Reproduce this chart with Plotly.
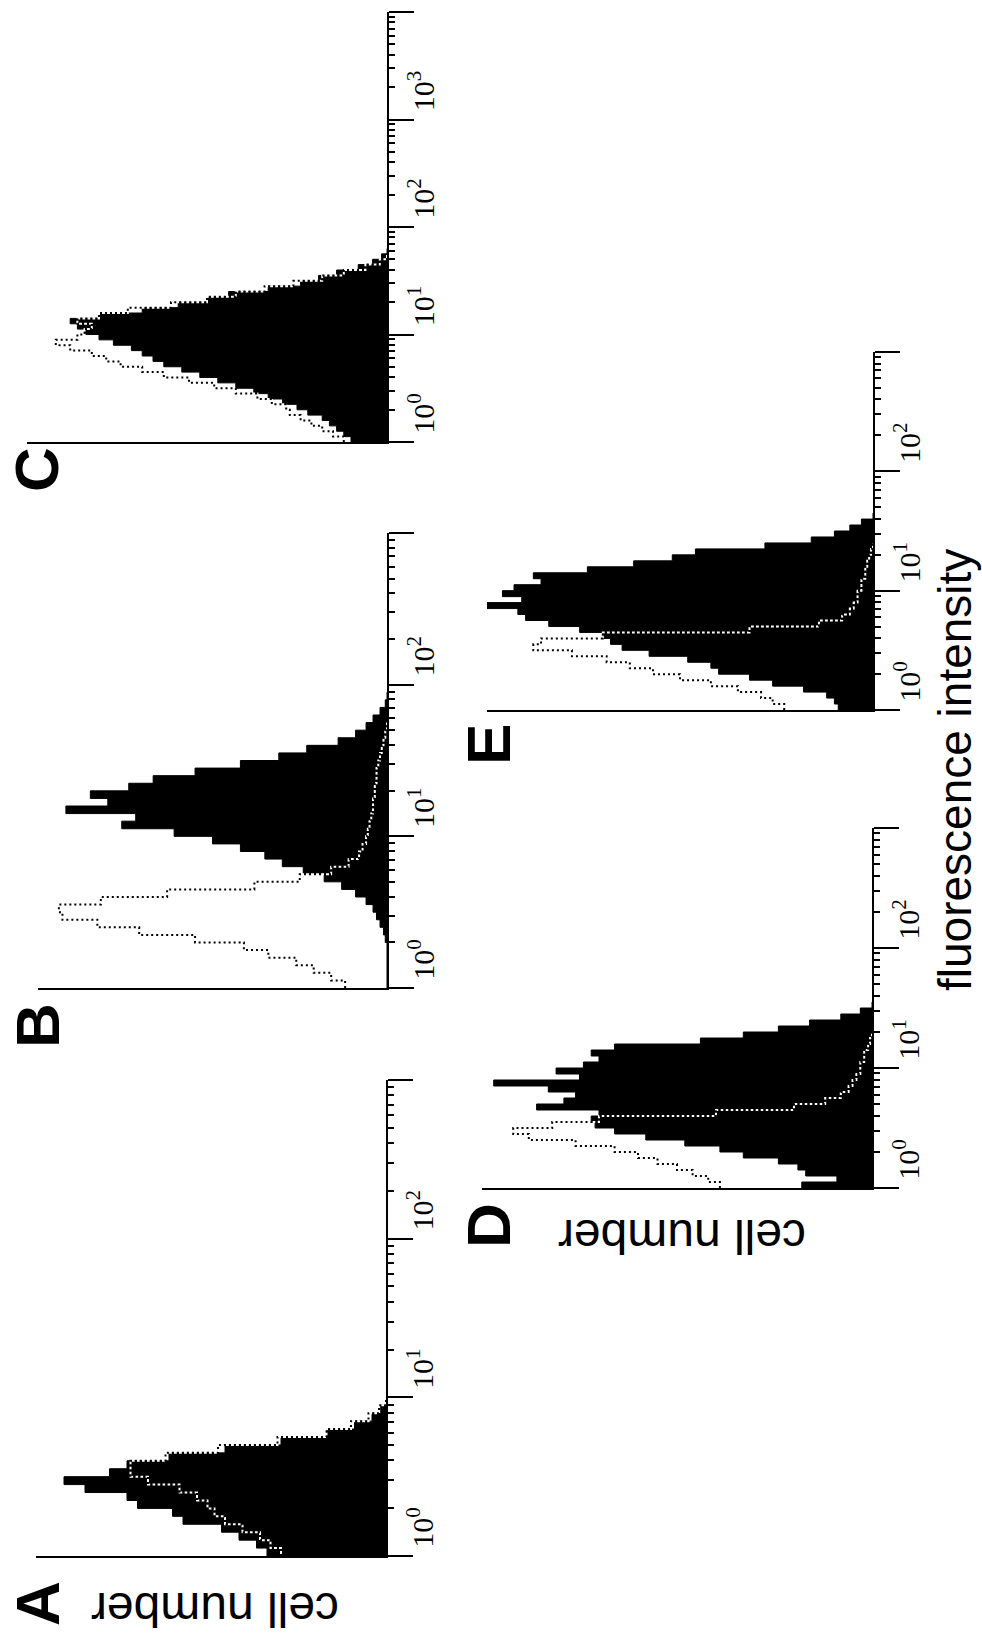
import plotly.graph_objects as go

W, H = 982, 1646

# histogram bins: log10(fluorescence) lower edge of first bin and bin width (decades)
BIN_START = 0.0
BIN_STEP = 0.05

# cell counts per bin (percent of the panel's count axis length)
A_fill = [34, 37, 42, 47, 58, 61, 71, 74, 86, 92, 79, 74, 62, 46, 30, 17, 9, 4, 1.5, 0]
A_ctrl = [30, 33, 36, 41, 46, 49, 51, 54, 59, 68, 73, 73, 63, 48, 31, 17, 10, 5, 2, 0]

B_fill = [0, 0, 0, 0, 0, 0, 0.5, 1, 2, 3, 4, 6, 9, 13, 18, 24, 30, 35, 42, 50,
          61, 76, 72, 92, 80, 85, 74, 67, 55, 42, 31, 23, 14, 9, 6, 4, 2, 0.5, 0]
B_ctrl = [12, 16, 21, 26, 34, 41, 55, 71, 83, 93, 94, 82, 63, 38, 25, 16, 11, 8, 7, 6,
          5.5, 5, 4.5, 4, 4, 3.5, 3.5, 3, 3, 2.5, 2, 1.5, 1, 0.5, 0]

C_fill = [10, 12, 14, 16, 18, 22, 25, 29, 33, 37, 42, 47, 52, 57, 62, 65, 68, 71, 76, 80,
          84, 86, 88, 80, 68, 58, 50, 44, 33, 24, 19, 14, 8, 4, 1.5, 0]
C_ctrl = [12, 15, 18, 21, 24, 27, 28, 32, 36, 42, 48, 55, 62, 68, 74, 78, 82, 88, 92, 86,
          84, 82, 86, 80, 72, 60, 50, 42, 34, 26, 18, 12, 6, 2, 0]

D_fill = [18, 9, 17, 19, 24, 33, 39, 48, 58, 66, 71, 72, 70, 86, 79, 76, 83, 97, 75, 81,
          74, 70, 72, 66, 44, 33, 24, 16, 8, 3, 0]
D_ctrl = [39, 42, 46, 50, 55, 60, 66, 76, 88, 92, 82, 70, 40, 20, 12, 8, 6, 5, 4, 3,
          3, 2, 2, 1, 0.5, 0]

E_fill = [9, 10, 12, 18, 26, 32, 40, 42, 48, 58, 65, 68, 70, 76, 84, 90, 92, 100, 91, 96,
          93, 86, 88, 74, 62, 52, 46, 28, 16, 10, 6, 3, 0]
E_ctrl = [23, 26, 29, 35, 42, 50, 57, 63, 69, 78, 88, 86, 70, 32, 14, 8, 6, 5, 4, 4,
          3, 3, 2, 2, 1.5, 1, 0.5, 0]

MAJOR_TICKS = [1, 10, 100, 1000, 10000]
MAJOR_TEXT = ["10<sup>0</sup>", "10<sup>1</sup>", "10<sup>2</sup>", "10<sup>3</sup>", " "]
MINOR_DIGITS = [2, 3, 4, 5, 6, 7, 8, 9]

PANEL_LETTERS = ["C", "B", "A", "E", "D"]
X_LABEL = "fluorescence intensity"
Y_LABEL = "cell number"

# layout (pixel boxes: left, right, top, bottom), log range of the fluorescence axis
panels = [
    dict(fill=C_fill, ctrl=C_ctrl, box=(27, 387, 12, 442), rng=(0.0, 4)),
    dict(fill=B_fill, ctrl=B_ctrl, box=(38, 387, 533, 988), rng=(0.0, 3)),
    dict(fill=A_fill, ctrl=A_ctrl, box=(36, 386, 1080, 1556), rng=(0.0, 3)),
    dict(fill=E_fill, ctrl=E_ctrl, box=(487, 873, 352, 710), rng=(0.0, 3)),
    dict(fill=D_fill, ctrl=D_ctrl, box=(482, 872, 828, 1188), rng=(0.0, 3)),
]


def step_path(counts, closed):
    xs, ys = [], []
    if closed:
        xs.append(0)
        ys.append(10 ** BIN_START)
    for i, c in enumerate(counts):
        lo = 10 ** (BIN_START + i * BIN_STEP)
        hi = 10 ** (BIN_START + (i + 1) * BIN_STEP)
        xs += [c, c]
        ys += [lo, hi]
    xs.append(0)
    ys.append(ys[-1])
    return xs, ys


fig = go.Figure()
layout = dict(width=W, height=H, margin=dict(l=0, r=0, t=0, b=0, autoexpand=False),
              paper_bgcolor="white", plot_bgcolor="white", showlegend=False)

for i, p in enumerate(panels, start=1):
    xa = "x" if i == 1 else f"x{i}"
    ya = "y" if i == 1 else f"y{i}"
    fx, fy = step_path(p["fill"], True)
    fig.add_trace(go.Scatter(x=fx, y=fy, mode="lines", fill="toself",
                             fillcolor="black", line=dict(color="black", width=1),
                             xaxis=xa, yaxis=ya, hoverinfo="skip"))
    cx, cy = step_path(p["ctrl"], False)
    fig.add_trace(go.Scatter(x=cx, y=cy, mode="lines",
                             line=dict(color="white", width=2, dash="0px,2px,3px,0px"),
                             xaxis=xa, yaxis=ya, hoverinfo="skip"))
    fig.add_trace(go.Scatter(x=cx, y=cy, mode="lines",
                             line=dict(color="black", width=2, dash="2px,3px"),
                             xaxis=xa, yaxis=ya, hoverinfo="skip"))
    l, r, t, b = p["box"]
    lo, hi = p["rng"]
    minor_vals = [d * 10 ** k for k in range(hi) for d in MINOR_DIGITS]
    layout["xaxis" if i == 1 else f"xaxis{i}"] = dict(
        domain=[l / W, r / W], anchor=ya, range=[100, 0], automargin=False,
        showline=True, linecolor="black", linewidth=2, fixedrange=True,
        showgrid=False, zeroline=False, ticks="", showticklabels=False)
    layout["yaxis" if i == 1 else f"yaxis{i}"] = dict(
        domain=[1 - b / H, 1 - t / H], anchor=xa, type="log", range=[lo, hi],
        automargin=False, fixedrange=True,
        side="right", showline=True, linecolor="black", linewidth=2,
        showgrid=False, zeroline=False,
        tickmode="array", tickvals=MAJOR_TICKS[:hi + 1], ticktext=MAJOR_TEXT[:hi] + [" "],
        ticks="outside", ticklen=25, tickwidth=2, tickcolor="black",
        tickangle=-90, ticklabelshift=-24, ticklabelstandoff=-16,
        tickfont=dict(family="Liberation Serif", size=30, color="black"),
        minor=dict(tickmode="array", tickvals=minor_vals, ticks="outside",
                   ticklen=6, tickwidth=2, tickcolor="black", showgrid=False))

fig.update_layout(**layout)

letter_pos = [(37, 470), (37, 1026), (37, 1604), (488, 745), (488, 1226)]
for letter, (px, py) in zip(PANEL_LETTERS, letter_pos):
    fig.add_annotation(x=px / W, y=1 - py / H, xref="paper", yref="paper",
                       xanchor="center", yanchor="middle",
                       text=f"<b>{letter}</b>", showarrow=False, textangle=-90,
                       font=dict(family="Liberation Sans", size=62, color="black"))

for (px, py) in [(215, 1610), (682, 1237)]:
    fig.add_annotation(x=px / W, y=1 - py / H, xref="paper", yref="paper",
                       xanchor="center", yanchor="middle",
                       text=Y_LABEL, showarrow=False, textangle=180,
                       font=dict(family="Liberation Sans", size=48, color="black"))

fig.add_annotation(x=955 / W, y=1 - 770 / H, xref="paper", yref="paper",
                   xanchor="center", yanchor="middle",
                   text=X_LABEL, showarrow=False, textangle=-90,
                   font=dict(family="Liberation Sans", size=46, color="black"))

fig.write_html("out.html", config={"displayModeBar": False, "staticPlot": True},
               post_script="document.body.style.margin='0px';"
                           "document.documentElement.style.overflow='hidden';")
